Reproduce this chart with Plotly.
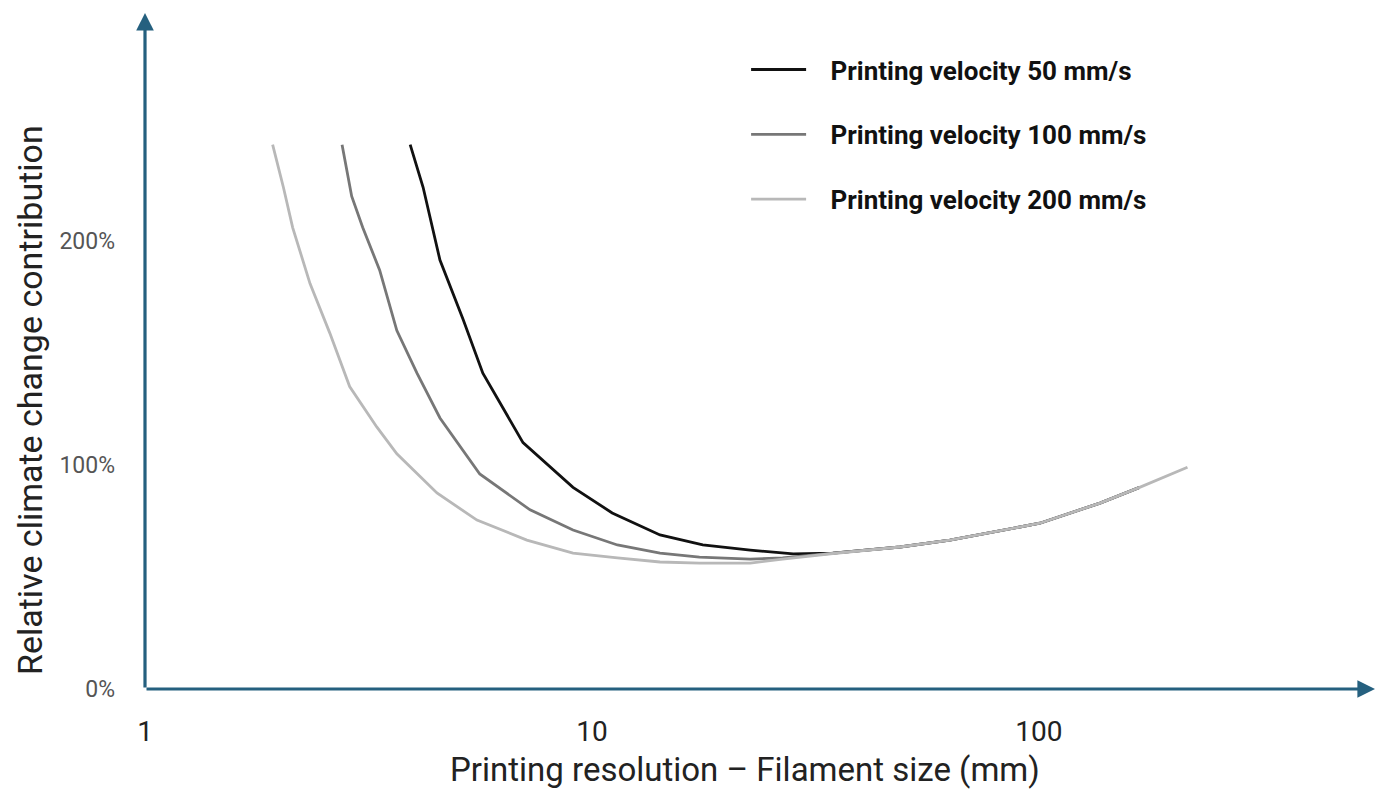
import plotly.graph_objects as go

# Data (x: filament size mm, y: relative contribution %)
x_50 = [3.92, 4.19, 4.57, 5.15, 5.70, 7.01, 9.07, 11.1, 14.2, 17.7, 22.6, 28.2, 34.6, 48.9, 63.2, 100.5, 137, 168]
y_50 = [243, 224, 191.5, 165, 141, 110, 90, 78.6, 68.8, 64.3, 62, 60.3, 60.7, 63.4, 66.5, 74, 83, 90]

x_100 = [2.76, 2.90, 3.07, 3.35, 3.66, 4.06, 4.57, 5.61, 7.27, 9.07, 11.4, 14.2, 17.4, 22.6, 26.7, 34.6, 48.9, 63.2, 100.5, 137, 168]
y_100 = [243, 220, 206, 187, 160, 141, 121, 96, 80, 71, 64.3, 60.7, 58.9, 58, 58.5, 60.5, 63.4, 66.5, 74, 83, 90]

x_200 = [1.93, 2.04, 2.14, 2.34, 2.59, 2.87, 3.30, 3.66, 4.50, 5.53, 7.15, 9.07, 11.4, 14.2, 17.4, 22.6, 26.7, 34.6, 48.9, 63.2, 100.5, 137, 168, 215]
y_200 = [243, 224, 206, 181, 159, 135, 117, 105, 87.5, 75.4, 66.5, 60.7, 58.5, 56.7, 56.2, 56.2, 58, 60.5, 63.4, 66.5, 74, 83, 90, 99]

series_names = ["Printing velocity 50 mm/s", "Printing velocity 100 mm/s", "Printing velocity 200 mm/s"]
series_colors = ["#111111", "#777777", "#b8b8b8"]

y_tick_vals = [0, 100, 200]
y_tick_text = ["0%", "100%", "200%"]
x_tick_vals = [1, 10, 100]
x_tick_text = ["1", "10", "100"]

AXIS = "#25607f"
PAD = "\u00a0\u00a0\u00a0"

fig = go.Figure()
for i, (xs, ys) in enumerate([(x_50, y_50), (x_100, y_100), (x_200, y_200)]):
    fig.add_trace(go.Scatter(
        x=xs, y=ys, mode="lines", name=PAD + series_names[i],
        legendgroup=f"g{i}",
        line=dict(color=series_colors[i], width=2.8),
    ))

fig.update_layout(
    width=1379, height=781,
    margin=dict(l=137, r=12, t=5, b=100),
    paper_bgcolor="white", plot_bgcolor="white",
    showlegend=True,
    legend=dict(
        x=0.4887, y=0.951, xanchor="left", yanchor="top",
        traceorder="grouped", tracegroupgap=28, itemwidth=55,
        font=dict(family="Roboto", size=26, color="#111111", weight="bold"),
        bgcolor="rgba(0,0,0,0)",
    ),
    xaxis=dict(
        type="log", range=[0, 2.752], autorange=False,
        showgrid=False, zeroline=False, showline=False,
        tickvals=x_tick_vals, ticktext=x_tick_text, ticks="",
        ticklabelstandoff=23,
        tickfont=dict(family="Roboto", size=28, color="#222222"),
    ),
    yaxis=dict(
        range=[0, 301.8], autorange=False,
        showgrid=False, zeroline=False, showline=False,
        tickvals=y_tick_vals, ticktext=y_tick_text, ticks="",
        ticklabelstandoff=29,
        tickfont=dict(family="Roboto", size=23, color="#555555"),
    ),
)

# axes drawn as arrows
fig.add_annotation(xref="x domain", yref="y domain", axref="x domain", ayref="y domain",
                   x=1.0, y=0, ax=0, ay=0, showarrow=True, arrowhead=2, arrowsize=1.1,
                   arrowwidth=3.2, arrowcolor=AXIS, text="")
fig.add_annotation(xref="x domain", yref="y domain", axref="x domain", ayref="y domain",
                   x=0, y=1.0, ax=0, ay=0, showarrow=True, arrowhead=2, arrowsize=1.1,
                   arrowwidth=3.2, arrowcolor=AXIS, text="")

# axis titles
fig.add_annotation(xref="paper", yref="paper", x=0.4874, y=-0.1185, showarrow=False,
                   xanchor="center", yanchor="middle", borderpad=0,
                   text="Printing resolution – Filament size (mm)",
                   font=dict(family="Roboto", size=33, color="#222222"))
fig.add_annotation(xref="paper", yref="paper", x=-0.0935, y=0.4275, showarrow=False,
                   xanchor="center", yanchor="middle", borderpad=0,
                   textangle=-90, text="Relative climate change contribution",
                   font=dict(family="Roboto", size=34, color="#222222"))

fig.write_html("out.html")
